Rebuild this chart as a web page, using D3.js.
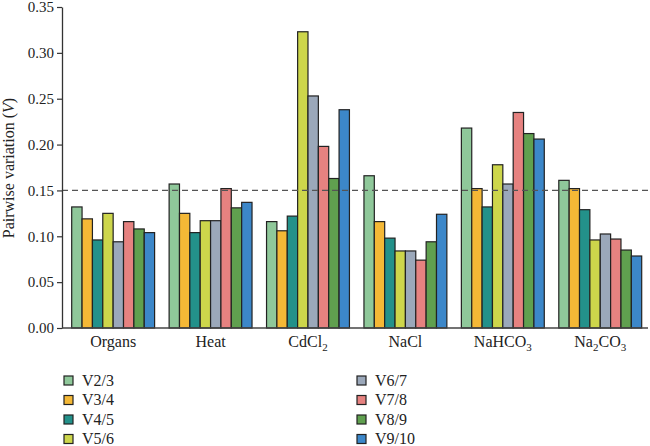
<!DOCTYPE html>
<html><head><meta charset="utf-8">
<script src="https://cdn.jsdelivr.net/npm/d3@7"></script>
<style>body{margin:0;background:#fff}svg{display:block}text{font-family:"Liberation Serif","Times New Roman",serif;fill:#222}</style>
</head><body><svg id="c" width="650" height="446"></svg>
<script>
const categories = ["Organs","Heat","CdCl2","NaCl","NaHCO3","Na2CO3"];
const seriesNames = ["V2/3","V3/4","V4/5","V5/6","V6/7","V7/8","V8/9","V9/10"];
const colors = ["#8fc89a","#f4b836","#23918a","#cdd64b","#9ba8ba","#e68280","#60a04f","#3c87c9"];
const organs = [0.132,0.119,0.096,0.125,0.094,0.116,0.108,0.104];
const heat   = [0.157,0.125,0.104,0.117,0.117,0.152,0.131,0.137];
const cdcl2  = [0.116,0.106,0.122,0.323,0.253,0.198,0.163,0.238];
const nacl   = [0.166,0.116,0.098,0.084,0.084,0.074,0.094,0.124];
const nahco3 = [0.218,0.152,0.132,0.178,0.157,0.235,0.212,0.206];
const na2co3 = [0.161,0.152,0.129,0.096,0.1025,0.097,0.085,0.0785];
const yTicks = [0,0.05,0.10,0.15,0.20,0.25,0.30,0.35];
const threshold = 0.15;
const values = [organs,heat,cdcl2,nacl,nahco3,na2co3];

const svg = d3.select("#c");
const x0 = d3.scaleBand().domain(categories).range([71.7,641.7]).paddingInner(0.149).paddingOuter(0);
const x1 = d3.scaleBand().domain(seriesNames).range([0,x0.bandwidth()]).padding(0);
const y = d3.scaleLinear().domain([0,0.35]).range([328,7]);

// bars
categories.forEach((c,ci)=>{
  svg.append("g").attr("transform",`translate(${x0(c)},0)`)
    .selectAll("rect").data(values[ci]).join("rect")
    .attr("x",(d,i)=>x1(seriesNames[i]))
    .attr("width",x1.bandwidth())
    .attr("y",d=>y(d))
    .attr("height",d=>y(0)-y(d))
    .attr("fill",(d,i)=>colors[i])
    .attr("stroke","#222").attr("stroke-width",1.2);
});

// dashed threshold
svg.append("line").attr("x1",62).attr("x2",648).attr("y1",y(threshold)).attr("y2",y(threshold))
  .attr("stroke","#555").attr("stroke-width",1.2).attr("stroke-dasharray","6,4");

// y axis
const ya = svg.append("g").attr("transform","translate(62,0)")
  .call(d3.axisLeft(y).tickValues(yTicks).tickFormat(d3.format(".2f")).tickSize(5).tickSizeOuter(0));
ya.select(".domain").attr("stroke","#333").attr("stroke-width",1.3);
ya.selectAll(".tick line").attr("stroke","#333").attr("stroke-width",1.2);
ya.selectAll(".tick text").attr("font-size",15).attr("font-family","Liberation Serif").attr("fill","#222").attr("x",-8);

// x axis
svg.append("line").attr("x1",62).attr("x2",648).attr("y1",328).attr("y2",328).attr("stroke","#444").attr("stroke-width",1.5);

// category labels with subscripts
const labelParts = {
  "Organs":[["Organs",false]],
  "Heat":[["Heat",false]],
  "CdCl2":[["CdCl",false],["2",true]],
  "NaCl":[["NaCl",false]],
  "NaHCO3":[["NaHCO",false],["3",true]],
  "Na2CO3":[["Na",false],["2",true],["CO",false],["3",true]]
};
categories.forEach(c=>{
  const t = svg.append("text").attr("x",x0(c)+x0.bandwidth()/2).attr("y",347)
    .attr("text-anchor","middle").attr("font-size",16);
  labelParts[c].forEach(([s,sub])=>{
    const ts = t.append("tspan").text(s);
    if(sub) ts.attr("font-size",11).attr("dy",4);
    else ts.attr("dy", t.selectAll("tspan").size()>1 ? -4 : 0);
  });
});

// y label
const yl = svg.append("text").attr("transform","translate(13.5,168) rotate(-90)")
  .attr("text-anchor","middle").attr("font-size",16);
yl.append("tspan").text("Pairwise variation (");
yl.append("tspan").text("V").attr("font-style","italic");
yl.append("tspan").text(")");

// legend
seriesNames.forEach((s,i)=>{
  const col = Math.floor(i/4), row = i%4;
  const gx = col===0 ? 64 : 357, gy = 380.5 + row*19.5;
  svg.append("rect").attr("x",gx).attr("y",gy-4.5).attr("width",9).attr("height",9)
    .attr("fill",colors[i]).attr("stroke","#222").attr("stroke-width",1.2);
  svg.append("text").attr("x",gx+18).attr("y",gy+5).attr("font-size",16).text(s);
});
</script></body></html>
